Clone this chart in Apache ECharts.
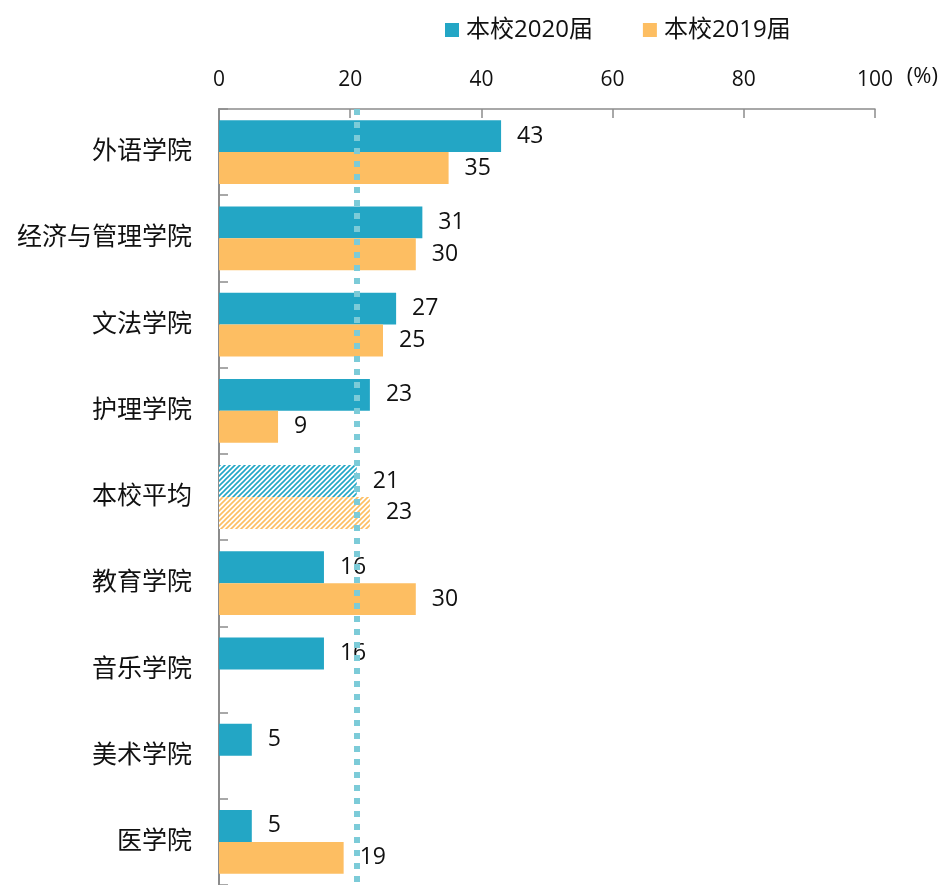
<!DOCTYPE html>
<html>
<head>
<meta charset="utf-8">
<script src="https://cdn.jsdelivr.net/npm/echarts@6/dist/echarts.min.js"></script>
<style>
html,body{margin:0;padding:0;background:#fff;}
#chart{width:942px;height:885px;}
</style>
</head>
<body>
<div id="chart"></div>
<script>
const categories = ['外语学院','经济与管理学院','文法学院','护理学院','本校平均','教育学院','音乐学院','美术学院','医学院'];
const values2020 = [43,31,27,23,21,16,16,5,5];
const values2019 = [35,30,25,9,23,30,null,null,19];
const seriesNames = ['本校2020届','本校2019届'];
const unitLabel = '(%)';
const averageIndex = 4;
const averageValue = 21;

const BLUE = '#23a6c5';
const ORANGE = '#fdbe62';
const TEXT = '#111';
const FONT = '"Open Sans", "Noto Sans CJK SC", sans-serif';

function hatch(color){
  const c = document.createElement('canvas');
  c.width = 5; c.height = 5;
  const g = c.getContext('2d');
  g.fillStyle = '#fff';
  g.fillRect(0,0,5,5);
  g.strokeStyle = color;
  g.lineWidth = 1.6;
  g.beginPath();
  g.moveTo(-1,6); g.lineTo(6,-1);
  g.moveTo(-4,4); g.lineTo(4,-4);
  g.moveTo(1,9); g.lineTo(9,1);
  g.stroke();
  return {image: c, repeat: 'repeat'};
}

function build(vals, color){
  return vals.map((v,i)=> i===averageIndex ? {value:v, itemStyle:{color:hatch(color)}} : v);
}

const chart = echarts.init(document.getElementById('chart'));
chart.setOption({
  animation:false,
  backgroundColor:'#fff',
  textStyle:{fontFamily:FONT},
  legend:{
    top:13, left:440,
    itemWidth:14, itemHeight:14, itemGap:50,
    icon:'rect',
    textStyle:{fontSize:24, color:TEXT, fontFamily:FONT, padding:[0,0,0,2]},
    data:seriesNames
  },
  graphic:[{
    type:'text', right:4, top:66,
    style:{text:unitLabel, fontSize:22, fill:TEXT, fontFamily:FONT}
  }],
  grid:{left:219, right:67, top:109, bottom:-8},
  xAxis:{
    type:'value', position:'top', min:0, max:100, interval:20,
    axisLine:{show:true, lineStyle:{color:'#8c8c8c', width:1.5}},
    axisTick:{show:true, inside:true, length:9, lineStyle:{color:'#8c8c8c', width:1.5}},
    axisLabel:{fontSize:21, color:TEXT, margin:18, fontFamily:FONT},
    splitLine:{show:false}
  },
  yAxis:{
    type:'category', data:categories, inverse:true,
    axisLine:{show:true, lineStyle:{color:'#8c8c8c', width:2}},
    axisTick:{show:true, inside:true, length:9, lineStyle:{color:'#8c8c8c', width:1.5}},
    axisLabel:{fontSize:25, color:TEXT, margin:27, fontFamily:FONT}
  },
  series:[
    {
      name:seriesNames[0], type:'bar', data:build(values2020, BLUE),
      itemStyle:{color:BLUE}, barGap:'0%', barCategoryGap:'26%',
      label:{show:true, position:'right', distance:16, fontSize:23, color:TEXT, fontFamily:FONT, padding:[4,0,0,0]},
      markLine:{
        silent:true, symbol:'none',
        label:{show:false},
        lineStyle:{color:'#7ccbd8', type:[6,7], width:6},
        data:[{xAxis:averageValue}]
      },
      z:2
    },
    {
      name:seriesNames[1], type:'bar', data:build(values2019, ORANGE),
      itemStyle:{color:ORANGE},
      label:{show:true, position:'right', distance:16, fontSize:23, color:TEXT, fontFamily:FONT, padding:[4,0,0,0]},
      z:2
    }
  ]
});
</script>
</body>
</html>
